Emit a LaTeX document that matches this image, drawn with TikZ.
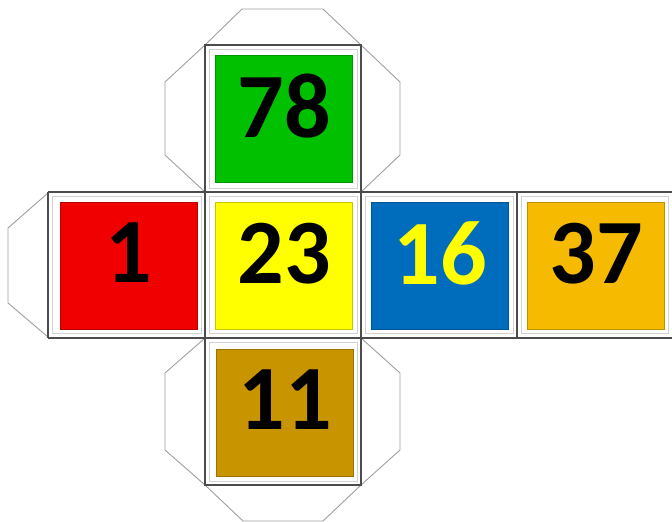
\documentclass[tikz,border=0pt]{standalone}
\usepackage{fontspec}
\setmainfont{Carlito}
\usepackage{xcolor}
\usepackage{tikz}

\definecolor{facegreen}{RGB}{0,192,0}
\definecolor{facered}{RGB}{240,0,0}
\definecolor{faceyellow}{RGB}{255,255,0}
\definecolor{faceblue}{RGB}{0,108,188}
\definecolor{faceorange}{RGB}{246,187,0}
\definecolor{facebrown}{RGB}{200,148,0}

\begin{document}
\begin{tikzpicture}[x=1pt,y=-1pt,
    tab/.style={draw=gray!75, line width=0.9pt},
    edge/.style={draw=black!70, line width=1.4pt},
    frame/.style={draw=gray!35, line width=1pt},
    face/.style={minimum width=137pt, minimum height=127pt, inner sep=0pt,
        text depth=26pt, font=\fontsize{92}{92}\selectfont\bfseries,
        fill=#1, draw=#1!78!black, line width=1.5pt}]

\useasboundingbox (0,0) rectangle (672,522);

% --------------------------------------------------
% Glue tabs
% --------------------------------------------------
\draw[tab] (205,45) -- (242,9) -- (323,9) -- (361,45);
\draw[tab] (205,45) -- (165,82) -- (165,155) -- (205,192);
\draw[tab] (361,45) -- (400,82) -- (400,155) -- (361,192);
\draw[tab] (48,193) -- (8,228) -- (8,303) -- (48,337);
\draw[tab] (205,338) -- (165,373) -- (165,450) -- (205,485);
\draw[tab] (361,338) -- (400,373) -- (400,450) -- (361,485);
\draw[tab] (205,485) -- (243,521) -- (323,521) -- (361,485);

% --------------------------------------------------
% Cells of the net
% --------------------------------------------------
\draw[frame] (209,49) rectangle (357,188);
\draw[frame] (52,196) rectangle (201,333);
\draw[frame] (209,196) rectangle (357,333);
\draw[frame] (365,196) rectangle (513,333);
\draw[frame] (521,196) rectangle (668,333);
\draw[frame] (209,342) rectangle (357,481);

\draw[edge] (205,45) rectangle (361,485);
\draw[edge] (205,192) -- (361,192);
\draw[edge] (205,338) -- (361,338);
\draw[edge] (48,192) -- (675,192);
\draw[edge] (48,338) -- (675,338);
\draw[edge] (48,192) -- (48,338);
\draw[edge] (517,192) -- (517,338);

% --------------------------------------------------
% Faces
% --------------------------------------------------
\node[face=facegreen] (top) at (284,119) {78};
\node[face=facered] (left) at (129,266) {1};
\node[face=faceyellow] (front) at (284,266) {23};
\node[face=faceblue, text=faceyellow] (right) at (440,266) {16};
\node[face=faceorange] (back) at (596,266) {37};
\node[face=facebrown] (bottom) at (285,413) {11};

\end{tikzpicture}
\end{document}
